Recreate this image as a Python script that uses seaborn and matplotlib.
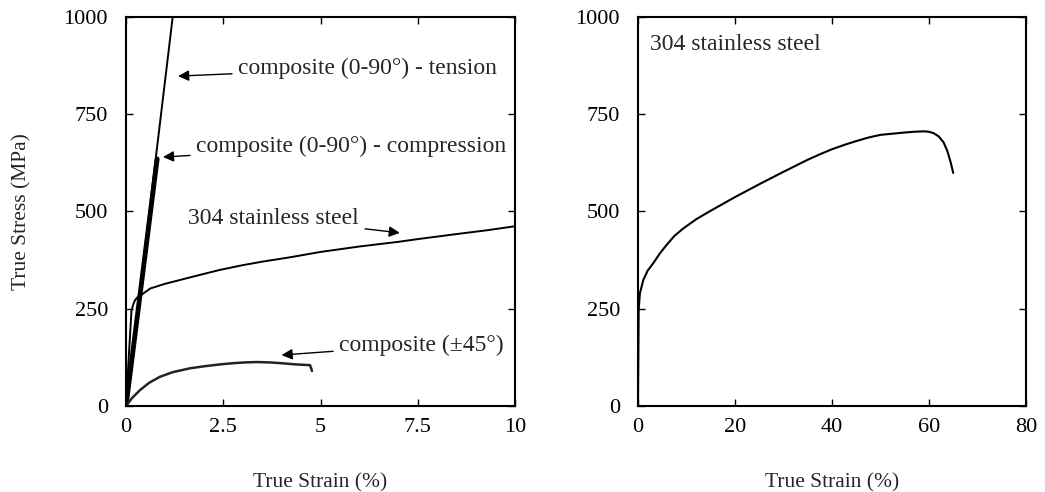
import matplotlib
matplotlib.use("Agg")
import matplotlib.pyplot as plt
import seaborn as sns
import numpy as np

sns.set_theme(style="white")
plt.rcParams['font.family'] = ['Liberation Serif', 'DejaVu Serif']

# ---- data (strain %, stress MPa) ----
tension_strain = [0.0, 1.2]
tension_stress = [0.0, 1000.0]

compression_strain = [0.0, 0.8]
compression_stress = [0.0, 635.0]

steel_strain_left = [0.0, 0.07, 0.14, 0.19, 0.23, 0.3, 0.4, 0.62, 1.0, 1.39, 1.9, 2.42, 3.0, 3.5, 4.2, 5.0, 6.0, 7.0, 7.5, 8.5, 9.3, 10.0]
steel_stress_left = [0.0, 125.0, 245.0, 262.0, 272.0, 280.0, 286.0, 302.0, 314.0, 324.0, 337.0, 350.0, 362.0, 371.0, 382.0, 396.0, 410.0, 422.0, 429.0, 442.0, 452.0, 462.0]

pm45_strain = [0.0, 0.15, 0.36, 0.6, 0.87, 1.2, 1.65, 2.0, 2.42, 2.75, 3.05, 3.36, 3.7, 4.0, 4.35, 4.73, 4.76, 4.78]
pm45_stress = [0.0, 20.0, 41.0, 60.0, 75.0, 87.0, 97.0, 102.0, 107.0, 110.0, 112.0, 113.0, 112.0, 110.0, 107.0, 105.0, 97.0, 90.0]

steel_strain = [0.0, 0.15, 0.4, 1.1, 2.0, 3.15, 4.5, 5.9, 7.5, 9.3, 12.0, 15.0, 20.0, 25.0, 30.0, 35.0, 37.5, 40.0, 42.5, 45.0, 47.5, 50.0, 55.0, 57.0, 59.0, 60.0, 61.0, 62.0, 63.0, 63.8, 64.5, 65.0]
steel_stress = [0.0, 250.0, 290.0, 324.0, 348.0, 367.0, 392.0, 414.0, 437.0, 456.0, 480.0, 502.0, 537.0, 570.0, 602.0, 633.0, 647.0, 660.0, 671.0, 681.0, 690.0, 697.0, 703.0, 705.0, 706.0, 705.0, 701.0, 693.0, 678.0, 655.0, 625.0, 599.0]

left_xticks = [0, 2.5, 5, 7.5, 10]
left_xticklabels = ["0", "2.5", "5", "7.5", "10"]
yticks = [0, 250, 500, 750, 1000]
right_xticks = [0, 20, 40, 60, 80]

fig = plt.figure(figsize=(10.45, 4.92), dpi=100)
ax1 = fig.add_axes([0.1206, 0.1748, 0.3722, 0.7907])
ax2 = fig.add_axes([0.6105, 0.1748, 0.3713, 0.7907])

sns.lineplot(x=tension_strain, y=tension_stress, ax=ax1, color='black', lw=1.4, sort=False)
sns.lineplot(x=compression_strain, y=compression_stress, ax=ax1, color='black', lw=3.5, sort=False)
sns.lineplot(x=steel_strain_left, y=steel_stress_left, ax=ax1, color='black', lw=1.4, sort=False)
sns.lineplot(x=pm45_strain, y=pm45_stress, ax=ax1, color='#222222', lw=1.8, sort=False)

sns.lineplot(x=steel_strain, y=steel_stress, ax=ax2, color='black', lw=1.5, sort=False)

fs_tick = 16
fs_lab = 15.5
fs_txt = 17
for ax in (ax1, ax2):
    ax.set_ylim(0, 1000)
    ax.set_yticks(yticks)
    ax.set_yticklabels([str(v) for v in yticks])
    for s in ax.spines.values():
        s.set_visible(True)
        s.set_color('black')
        s.set_linewidth(1.5)
    ax.tick_params(direction='in', length=5, width=1, top=True, right=True,
                   bottom=True, left=True, labelsize=fs_tick, colors='black')
    ax.tick_params(axis='x', pad=9)
    ax.tick_params(axis='y', pad=13)
    ax.set_xlabel("True Strain (%)", fontsize=fs_lab, labelpad=26)
    ax.grid(False)

ax1.set_xlim(0, 10)
ax1.set_xticks(left_xticks)
ax1.set_xticklabels(left_xticklabels)
ax1.set_ylabel("True Stress (MPa)", fontsize=fs_lab, labelpad=23)

ax2.set_xlim(0, 80)
ax2.set_xticks(right_xticks)
ax2.set_xticklabels([str(v) for v in right_xticks])

ap = dict(arrowstyle='-|>', color='black', lw=1.0, mutation_scale=16, shrinkA=2, shrinkB=0)
ax1.annotate("composite (0-90°) - tension", xy=(1.34, 848), xytext=(2.88, 869),
             fontsize=fs_txt, va='center', ha='left', arrowprops=ap)
ax1.annotate("composite (0-90°) - compression", xy=(0.95, 640), xytext=(1.8, 668),
             fontsize=fs_txt, va='center', ha='left', arrowprops=ap)
ax1.annotate("304 stainless steel", xy=(7.04, 445), xytext=(1.6, 483),
             fontsize=fs_txt, va='center', ha='left', arrowprops=ap)
ax1.annotate("composite (±45°)", xy=(4.0, 131), xytext=(5.48, 157),
             fontsize=fs_txt, va='center', ha='left', arrowprops=ap)

ax2.text(0.03, 0.955, "304 stainless steel", transform=ax2.transAxes,
         fontsize=fs_txt, va='top', ha='left')

fig.savefig("out.png", dpi=100)
